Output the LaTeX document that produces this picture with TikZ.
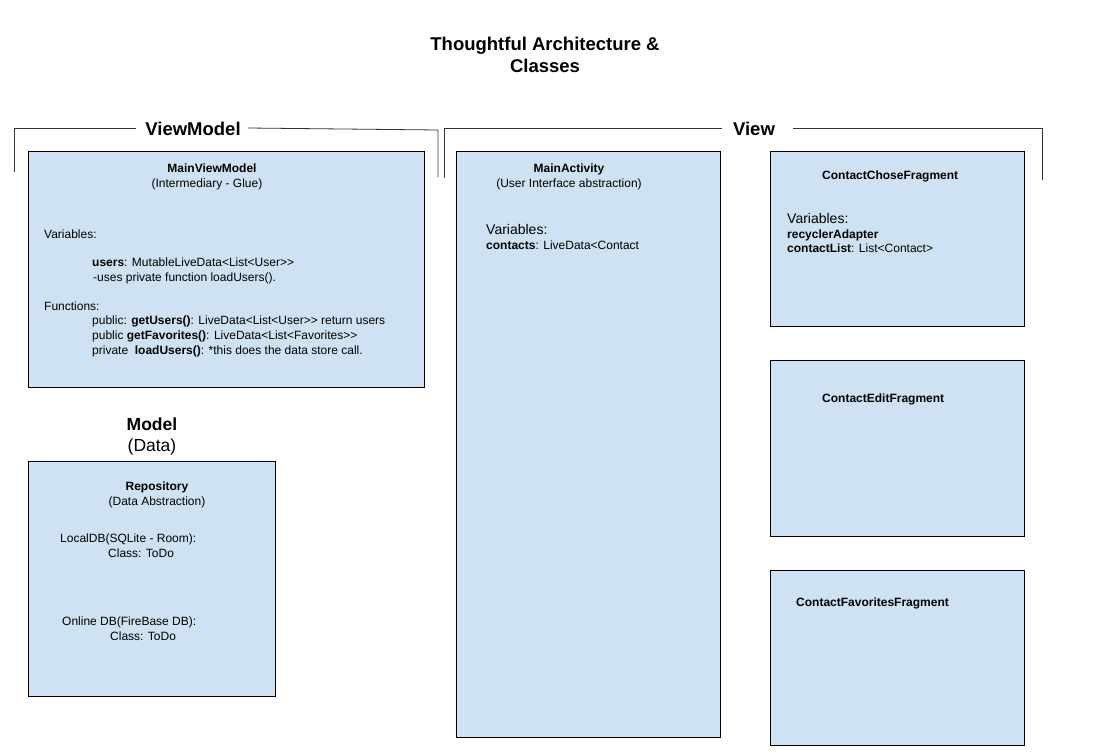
\documentclass[tikz,border=0pt]{standalone}
\usepackage{fontspec}
\setmainfont{Liberation Sans}[Ligatures=TeXOff]
\usetikzlibrary{calc}

\definecolor{boxblue}{HTML}{CFE2F3}

\begin{document}
\begin{tikzpicture}[
    x=1pt, y=-1pt, % one unit is one pixel, y grows downwards
    every node/.style={inner sep=0pt, font=\fontsize{12}{14}\selectfont},
    class_box/.style={draw=black, fill=boxblue, line width=0.9pt, anchor=north west},
    bracket_line/.style={draw=black!80, line width=0.8pt},
    head_text/.style={font=\fontsize{18.5}{22}\selectfont\bfseries, anchor=base},
    big_text/.style={font=\fontsize{14}{16}\selectfont, anchor=base west},
    name_text/.style={font=\fontsize{12}{14}\selectfont\bfseries},
    body_text/.style={anchor=base west}
  ]

% Page frame (keeps the proportions of the drawing)
\useasboundingbox (0,0) rectangle (1106,755);

% Title on top
\node[head_text] (title1) at (545,50) {Thoughtful Architecture \&};
\node[head_text] (title2) at (545,72) {Classes};

% Group labels
\node[head_text] (vmlabel) at (193,135) {ViewModel};
\node[head_text] (viewlabel) at (754,135) {View};
\node[head_text, font=\fontsize{17.5}{20}\selectfont\bfseries] (modellabel) at (152,430) {Model};
\node[anchor=base, font=\fontsize{17.5}{20}\selectfont] (modelsub) at (152,451) {(Data)};

% Corner points of the two brackets
\coordinate (vmbl) at (14,172);   % ViewModel, left end
\coordinate (vmtl) at (14,128);
\coordinate (vmtr) at (438,130);  % ViewModel, right end
\coordinate (vmbr) at (438,177);
\coordinate (vbl) at (444,178);   % View, left end
\coordinate (vtl) at (444,128);
\coordinate (vtr) at (1042,128);  % View, right end
\coordinate (vbr) at (1042,180);

% Brackets, broken where the label sits
\draw[bracket_line] (vmbl) -- (vmtl) -- ($(vmlabel.west |- vmtl)+(-9,0)$);
\draw[bracket_line] ($(vmlabel.east |- vmtl)+(7,0)$) -- (vmtr) -- (vmbr);
\draw[bracket_line] (vbl) -- (vtl) -- ($(viewlabel.west |- vtl)+(-11,0)$);
\draw[bracket_line] ($(viewlabel.east |- vtl)+(18,0)$) -- (vtr) -- (vbr);

% Class boxes (top left corner, width, height)
\node[class_box, minimum width=396pt, minimum height=236pt] (mvm) at (28,151) {};
\node[class_box, minimum width=247pt, minimum height=235pt] (repo) at (28,461) {};
\node[class_box, minimum width=264pt, minimum height=586pt] (act) at (456,151) {};
\node[class_box, minimum width=254pt, minimum height=175pt] (chose) at (770,151) {};
\node[class_box, minimum width=254pt, minimum height=176pt] (edit) at (770,360) {};
\node[class_box, minimum width=254pt, minimum height=175pt] (fav) at (770,570) {};

% MainViewModel contents
\node[name_text, anchor=base] (mvmname) at ($(mvm.north west)+(184,21)$) {MainViewModel};
\node[anchor=base] (mvmsub) at ($(mvm.north west)+(179,36)$) {(Intermediary - Glue)};
\node[body_text] (mvmvars) at ($(mvm.north west)+(16,87)$) {Variables:};
\node[body_text] (mvmusers) at ($(mvm.north west)+(64,115)$) {\textbf{users}: MutableLiveData<List<User>>};
\node[body_text] (mvmuses) at ($(mvm.north west)+(65,130)$) {-uses private function loadUsers().};
\node[body_text] (mvmfuncs) at ($(mvm.north west)+(16,159)$) {Functions:};
\node[body_text] (mvmf1) at ($(mvm.north west)+(64,173)$) {public: \textbf{getUsers()}: LiveData<List<User>> return users};
\node[body_text] (mvmf2) at ($(mvm.north west)+(64,188)$) {public \textbf{getFavorites()}: LiveData<List<Favorites>>};
\node[body_text] (mvmf3) at ($(mvm.north west)+(64,203)$) {private~~\textbf{loadUsers()}: *this does the data store call.};

% Repository contents
\node[name_text, anchor=base] (reponame) at ($(repo.north west)+(129,29)$) {Repository};
\node[anchor=base] (reposub) at ($(repo.north west)+(129,44)$) {(Data Abstraction)};
\node[body_text] (repolocal) at ($(repo.north west)+(32,81)$) {LocalDB(SQLite - Room):};
\node[body_text] (repolocalc) at ($(repo.north west)+(80,96)$) {Class: ToDo};
\node[body_text] (repoonline) at ($(repo.north west)+(34,164)$) {Online DB(FireBase DB):};
\node[body_text] (repoonlinec) at ($(repo.north west)+(82,179)$) {Class: ToDo};

% MainActivity contents
\node[name_text, anchor=base] (actname) at ($(act.north west)+(113,21)$) {MainActivity};
\node[anchor=base] (actsub) at ($(act.north west)+(113,36)$) {(User Interface abstraction)};
\node[big_text] (actvars) at ($(act.north west)+(30,83)$) {Variables:};
\node[body_text] (actcontacts) at ($(act.north west)+(30,98)$) {\textbf{contacts}: LiveData<Contact};

% Fragment contents
\node[name_text, anchor=base west] (chosename) at ($(chose.north west)+(52,28)$) {ContactChoseFragment};
\node[big_text] (chosevars) at ($(chose.north west)+(17,72)$) {Variables:};
\node[body_text] (choseadapter) at ($(chose.north west)+(17,87)$) {\textbf{recyclerAdapter}};
\node[body_text] (choselist) at ($(chose.north west)+(17,101)$) {\textbf{contactList}: List<Contact>};
\node[name_text, anchor=base west] (editname) at ($(edit.north west)+(52,42)$) {ContactEditFragment};
\node[name_text, anchor=base west] (favname) at ($(fav.north west)+(26,36)$) {ContactFavoritesFragment};

\end{tikzpicture}
\end{document}
